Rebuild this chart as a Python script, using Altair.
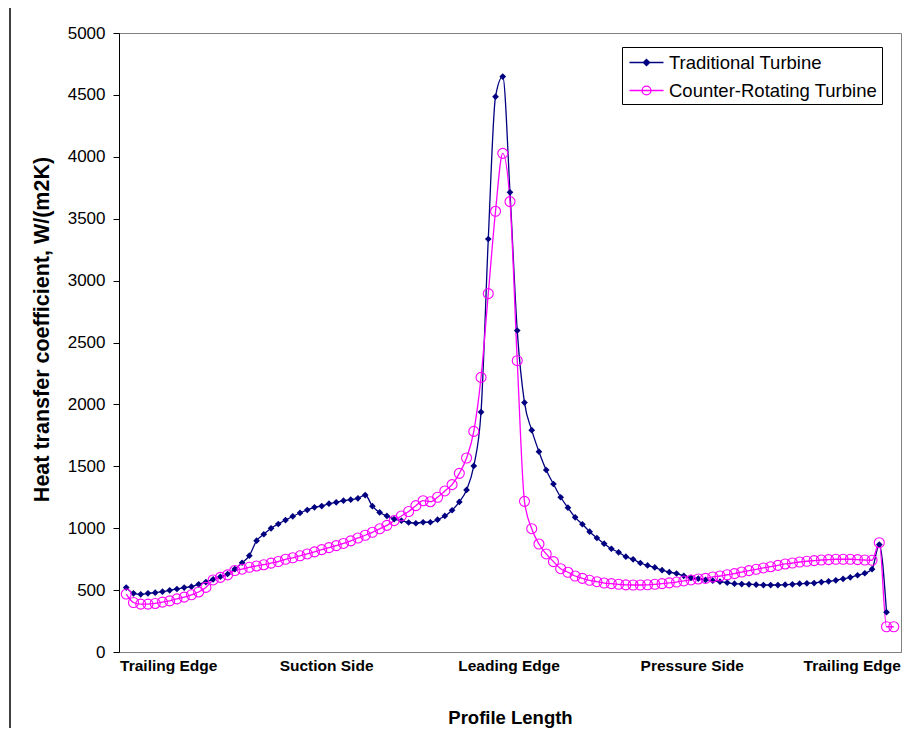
import altair as alt
import pandas as pd

series_names = ["Traditional Turbine", "Counter-Rotating Turbine"]
series_colors = ["#000080", "#FF00FF"]
series_fills = ["#000080", "transparent"]

traditional = [
    520, 474, 466, 474, 479, 487, 498, 509, 520, 528,
    547, 565, 587, 608, 630, 670, 721, 778, 899, 951,
    999, 1034, 1066, 1096, 1123, 1147, 1169, 1179, 1198, 1209,
    1222, 1230, 1241, 1268, 1178, 1127, 1099, 1074, 1061, 1046,
    1040, 1048, 1048, 1069, 1099, 1145, 1212, 1309, 1503, 1938,
    3336, 4486, 4648, 3713, 2596, 2015, 1792, 1618, 1470, 1357,
    1250, 1166, 1088, 1032, 972, 921, 875, 834, 805, 770,
    749, 719, 699, 683, 661, 645, 634, 615, 599, 592,
    582, 576, 568, 560, 552, 549, 547, 544, 541, 541,
    541, 544, 547, 552, 555, 557, 565, 571, 579, 590,
    603, 620, 636, 669, 868, 322,
]

counter = [
    468, 400, 387, 387, 392, 403, 413, 429, 443, 462,
    485, 522, 582, 603, 623, 658, 669, 684, 695, 705,
    718, 731, 749, 761, 777, 792, 809, 827, 843, 859,
    877, 898, 921, 943, 967, 995, 1023, 1061, 1099, 1135,
    1182, 1222, 1214, 1250, 1301, 1352, 1443, 1567, 1782, 2218,
    2895, 3560, 4028, 3638, 2353, 1217, 996, 872, 792, 730,
    673, 644, 614, 595, 579, 568, 557, 552, 547, 542,
    541, 541, 543, 547, 552, 558, 565, 574, 582, 590,
    595, 606, 614, 624, 633, 646, 657, 668, 679, 689,
    700, 711, 719, 727, 733, 738, 743, 746, 749, 749,
    749, 746, 743, 741, 883, 204, 204,
]

section_labels = ["Trailing Edge", "Suction Side", "Leading Edge", "Pressure Side", "Trailing Edge"]
section_positions = [5.8, 27.6, 52.8, 78.1, 100.2]
y_ticks = [0, 500, 1000, 1500, 2000, 2500, 3000, 3500, 4000, 4500, 5000]

df = pd.DataFrame({
    "idx": list(range(len(traditional))) + list(range(len(counter))),
    "value": traditional + counter,
    "series": [series_names[0]] * len(traditional) + [series_names[1]] * len(counter),
})

label_expr = "[" + ",".join("'%s'" % s for s in section_labels) + "][indexof([" + \
    ",".join(str(p) for p in section_positions) + "], datum.value)]"

FONT = "Liberation Sans"

x_enc = alt.X(
    "idx:Q",
    scale=alt.Scale(domain=[-1, 107], nice=False, zero=False),
    axis=alt.Axis(
        values=section_positions, labelExpr=label_expr, ticks=False, grid=False,
        domainColor="#808080", labelFont=FONT, labelFontSize=15.5, labelFontWeight="bold",
        labelColor="black", labelPadding=6, labelFlush=False, labelOverlap=False,
        title="Profile Length", titleFont=FONT, titleFontSize=18.5, titleFontWeight="bold",
        titleColor="black", titlePadding=35,
    ),
)
y_enc = alt.Y(
    "value:Q",
    scale=alt.Scale(domain=[0, 5000], nice=False),
    axis=alt.Axis(
        values=y_ticks, format="d", grid=False, domainColor="black", tickColor="black", tickSize=6,
        labelFont=FONT, labelFontSize=17, labelColor="black", labelPadding=8,
        title="Heat transfer coefficient, W/(m2K)", titleFont=FONT, titleFontSize=21.5,
        titleFontWeight="bold", titleColor="black", titlePadding=14, titleY=296,
    ),
)

PATH_T = "M-1.62,0H1.62M0,-0.3L0.3,0L0,0.3L-0.3,0Z"
PATH_C = "M-1.62,0H1.62M0.42,0A0.42,0.42 0 1,1 -0.42,0A0.42,0.42 0 1,1 0.42,0"

legend = alt.Legend(
    title=None, orient="none", legendX=503, legendY=14,
    strokeColor="black", fillColor="white", padding=4, rowPadding=7,
    symbolOffset=9, labelOffset=11, symbolSize=441, symbolStrokeWidth=1.3,
    labelFont=FONT, labelFontSize=18.5, labelColor="black", labelLimit=0,
)

color_scale = alt.Scale(domain=series_names, range=series_colors)
base = alt.Chart(df)

lines = base.mark_line(strokeWidth=1.3, interpolate="monotone").encode(
    x=x_enc, y=y_enc,
    color=alt.Color("series:N", scale=color_scale, sort=series_names, legend=legend),
)

trad_pts = base.transform_filter(alt.datum.series == series_names[0]).mark_point(
    shape="diamond", filled=True, size=45, color=series_colors[0], opacity=1
).encode(x="idx:Q", y="value:Q")

counter_pts = base.transform_filter(alt.datum.series == series_names[1]).mark_point(
    shape="circle", filled=False, size=100, color=series_colors[1], strokeWidth=1.1, opacity=1
).encode(x="idx:Q", y="value:Q")

# empty layer that only feeds the legend symbols (line + marker)
legend_keys = base.transform_filter("false").mark_point(size=441, opacity=1, filled=False).encode(
    x="idx:Q", y="value:Q",
    color=alt.Color("series:N", scale=color_scale, sort=series_names, legend=legend),
    shape=alt.Shape("series:N", scale=alt.Scale(domain=series_names, range=[PATH_T, PATH_C]),
                    sort=series_names, legend=legend),
    fill=alt.Fill("series:N", scale=alt.Scale(domain=series_names, range=series_fills),
                  sort=series_names, legend=legend),
)

frame = alt.Chart(pd.DataFrame({"f": [0]})).mark_rule(color="black", strokeWidth=1.5).encode(
    x=alt.value(-109), y=alt.value(-30), y2=alt.value(720)
)

chart = alt.layer(lines, trad_pts, counter_pts, legend_keys, frame).properties(
    width=782, height=619,
    autosize=alt.AutoSizeParams(type="none"),
    padding={"left": 111, "top": 25, "right": 2, "bottom": 76},
).configure_view(stroke="#808080", strokeWidth=1)

chart.save("out.html", embed_options={"renderer": "svg", "actions": False})
